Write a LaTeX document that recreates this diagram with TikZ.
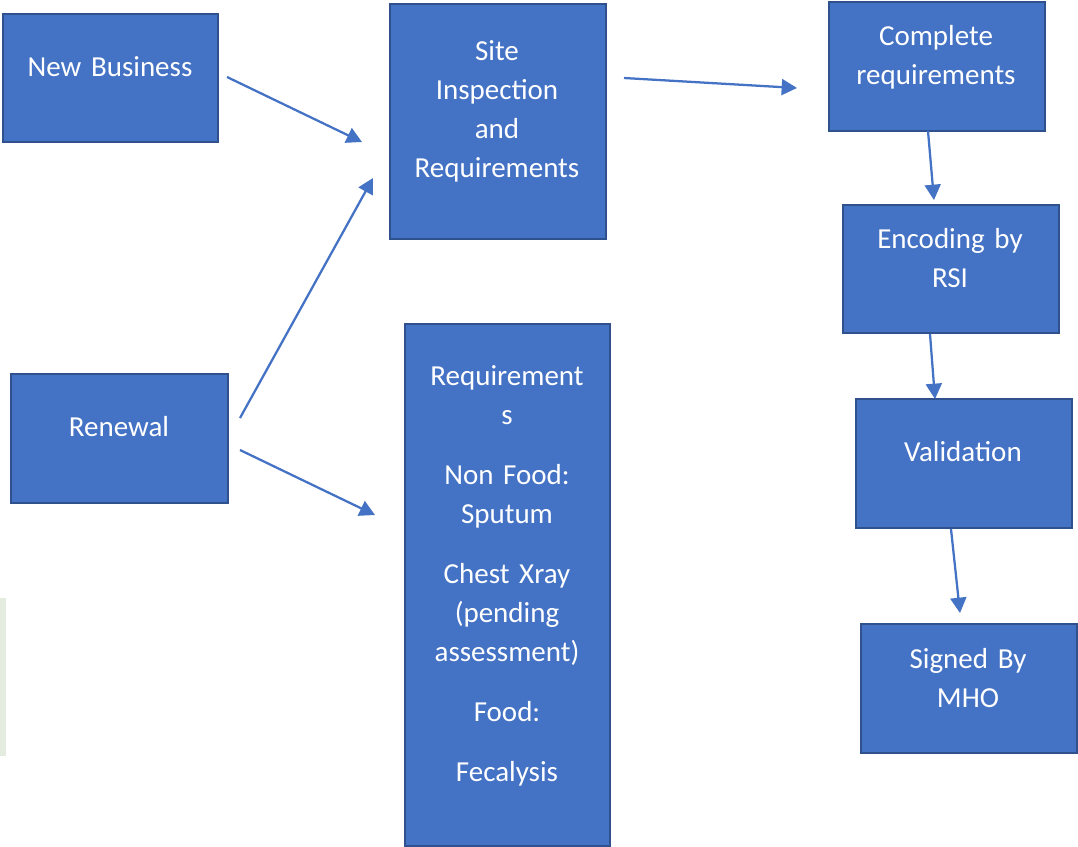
\documentclass[tikz,border=0pt]{standalone}
\usepackage{fontspec}
\setmainfont{Carlito}
\usetikzlibrary{arrows.meta}
\definecolor{boxfill}{HTML}{4472C4}
\definecolor{boxline}{HTML}{2F528F}
\definecolor{edgegreen}{HTML}{E3ECDE}
\begin{document}
\begin{tikzpicture}[x=0.75pt,y=-0.75pt,
  box/.style={draw=boxline, line width=1.2pt, fill=boxfill, inner sep=0pt, anchor=north west},
  lbl/.style={text=white, font=\fontsize{21.75pt}{29.25pt}\selectfont, align=center,
              text width=150pt, anchor=base, inner sep=0pt},
  flow/.style={draw=boxfill, line width=1.7pt, -{Triangle[length=11.5pt,width=12pt]}}]
\useasboundingbox (0,0) rectangle (1078,846);

% faint strip at the left edge
\fill[edgegreen] (0,598) rectangle (6,756);

% boxes
\node[box, minimum width=161.25pt, minimum height=96pt]    (nb)   at (2,13)    {};
\node[box, minimum width=162.75pt, minimum height=96.75pt] (ren)  at (10,373)  {};
\node[box, minimum width=162pt,    minimum height=176.25pt](site) at (389,3)   {};
\node[box, minimum width=153.75pt, minimum height=391.5pt] (req)  at (404,323) {};
\node[box, minimum width=162pt,    minimum height=96.75pt] (comp) at (828,1)   {};
\node[box, minimum width=162pt,    minimum height=96pt]    (enc)  at (842,204) {};
\node[box, minimum width=162pt,    minimum height=96.75pt] (val)  at (855,398) {};
\node[box, minimum width=162pt,    minimum height=96.75pt] (sig)  at (860,623) {};

% labels
\node[lbl] (nbt)   at (110,76.5)  {New Business};
\node[lbl] (rent)  at (119,436.5) {Renewal};
\node[lbl] (sitet) at (497,60.5)  {Site\\Inspection\\and\\Requirements};
\node[lbl] (reqt)  at (507,385.5) {Requirement\\s\\[15.75pt]Non Food:\\Sputum\\[15.75pt]Chest Xray\\(pending\\assessment)\\[15.75pt]Food:\\[15.75pt]Fecalysis};
\node[lbl] (compt) at (936,45.5)  {Complete\\requirements};
\node[lbl] (enct)  at (950,248.5) {Encoding by\\RSI};
\node[lbl] (valt)  at (963,461.5) {Validation};
\node[lbl] (sigt)  at (968,668.5) {Signed By\\MHO};

% connector ends
\coordinate (a1s) at (227,77);  \coordinate (a1e) at (362,142);
\coordinate (a2s) at (240,418); \coordinate (a2e) at (373,178);
\coordinate (a3s) at (240,450); \coordinate (a3e) at (375,515);
\coordinate (a4s) at (624,78);  \coordinate (a4e) at (797,88);
\coordinate (a5s) at (928,131); \coordinate (a5e) at (934,200);
\coordinate (a6s) at (930,334); \coordinate (a6e) at (935,399);
\coordinate (a7s) at (951,529); \coordinate (a7e) at (960,613);

% connectors
\draw[flow] (a1s) -- (a1e);
\draw[flow] (a2s) -- (a2e);
\draw[flow] (a3s) -- (a3e);
\draw[flow] (a4s) -- (a4e);
\draw[flow] (a5s) -- (a5e);
\draw[flow] (a6s) -- (a6e);
\draw[flow] (a7s) -- (a7e);
\end{tikzpicture}
\end{document}
